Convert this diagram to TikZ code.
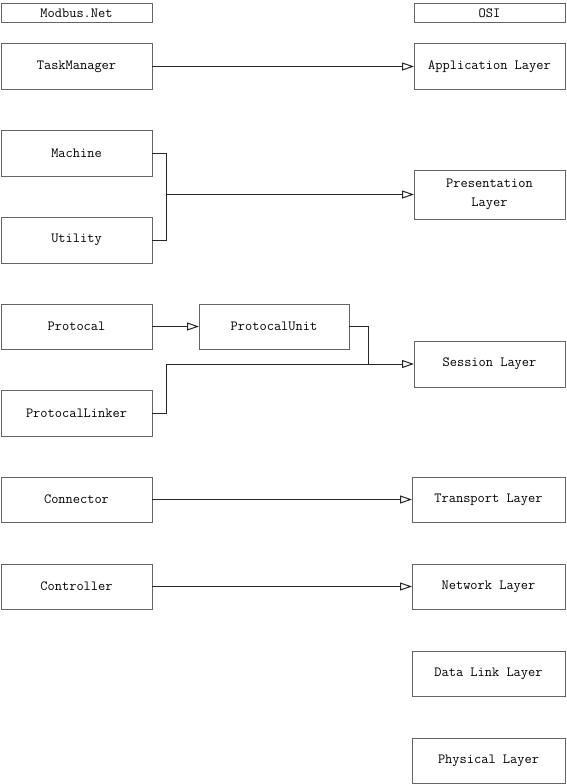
\documentclass[tikz,border=0pt]{standalone}
\usepackage{fontspec}
\usetikzlibrary{arrows.meta}
\definecolor{boxline}{RGB}{100,100,100}
\tikzset{
  box/.style={draw=boxline, line width=1pt, fill=white, inner sep=0pt, outer sep=0pt,
    align=center, font=\ttfamily\fontsize{14}{19}\selectfont},
  link/.style={draw=black!85, line width=1pt},
  arr/.style={link, -{Triangle[open, length=12pt, width=8pt, fill=white]}}
}
\begin{document}
\begin{tikzpicture}[x=1pt, y=-1pt]
\useasboundingbox (0,0) rectangle (566,784);
% headers
\node[box, minimum width=151pt, minimum height=19pt] (mn) at (76.5,13.5) {Modbus.Net};
\node[box, minimum width=151pt, minimum height=19pt] (osi) at (489.5,13.5) {OSI};
% left column
\node[box, minimum width=151pt, minimum height=45pt] (tm) at (76.5,66.5) {TaskManager};
\node[box, minimum width=151pt, minimum height=46pt] (mach) at (76.5,153) {Machine};
\node[box, minimum width=151pt, minimum height=46pt] (util) at (76.5,240) {Utility};
\node[box, minimum width=151pt, minimum height=45pt] (prot) at (76.5,326.5) {Protocal};
\node[box, minimum width=150pt, minimum height=45pt] (pu) at (274,326.5) {ProtocalUnit};
\node[box, minimum width=151pt, minimum height=46pt] (pl) at (76.5,413) {ProtocalLinker};
\node[box, minimum width=151pt, minimum height=45pt] (conn) at (76.5,499.5) {Connector};
\node[box, minimum width=151pt, minimum height=45pt] (ctrl) at (76.5,586.5) {Controller};
% right column
\node[box, minimum width=151pt, minimum height=45pt] (app) at (489.5,66.5) {Application Layer};
\node[box, minimum width=151pt, minimum height=49pt] (pres) at (489.5,194.5) {Presentation\\Layer};
\node[box, minimum width=151pt, minimum height=46pt] (sess) at (489.5,364) {Session Layer};
\node[box, minimum width=153pt, minimum height=45pt] (trans) at (488.5,499.5) {Transport Layer};
\node[box, minimum width=153pt, minimum height=45pt] (net) at (488.5,586.5) {Network Layer};
\node[box, minimum width=153pt, minimum height=45pt] (dl) at (488.5,673.5) {Data Link Layer};
\node[box, minimum width=153pt, minimum height=45pt] (phy) at (488.5,760.5) {Physical Layer};
% junctions
\coordinate (j1) at (166,194.5);
\coordinate (j2) at (166,364);
\coordinate (j3) at (368,364);
% connectors
\draw[arr] (tm.east) -- (app.west);
\draw[link] (mach.east) -| (j1);
\draw[link] (util.east) -| (j1);
\draw[arr] (j1) -- (pres.west);
\draw[arr] (prot.east) -- (pu.west);
\draw[link] (pu.east) -| (j3);
\draw[link] (pl.east) -| (j2);
\draw[arr] (j2) -- (sess.west);
\draw[arr] (conn.east) -- (trans.west);
\draw[arr] (ctrl.east) -- (net.west);
\end{tikzpicture}
\end{document}
